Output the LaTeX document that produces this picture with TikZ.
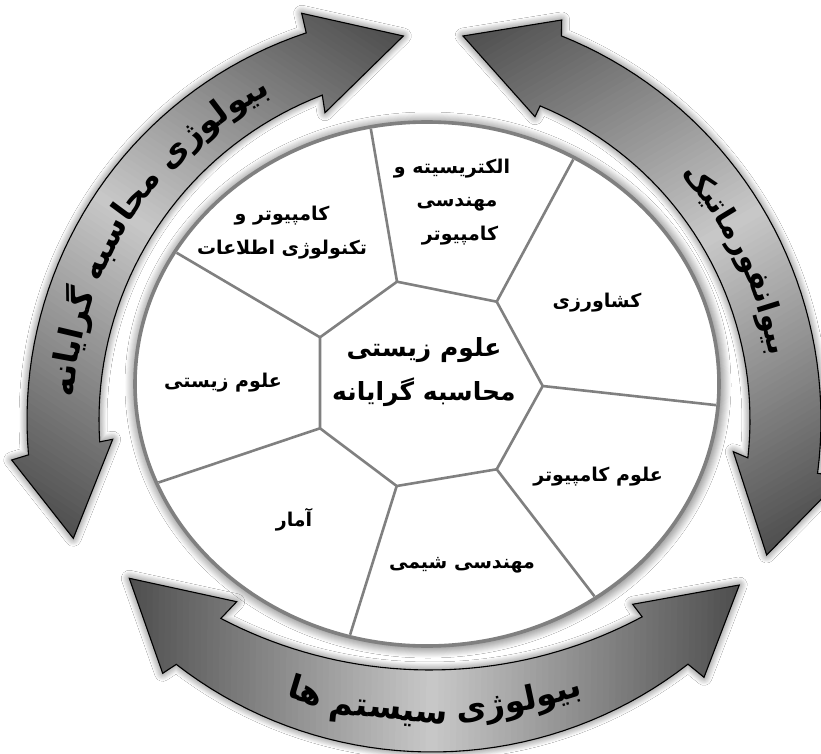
\documentclass[tikz,border=0pt]{standalone}
\usepackage{fontspec}
\usetikzlibrary{calc,shadows.blur}
\newfontfamily\fa[Script=Arabic]{DejaVu Sans}
\TeXXeTstate=1
\definecolor{edgegray}{HTML}{808080}
\definecolor{arrdark}{HTML}{4E4E4E}
\definecolor{arrlight}{HTML}{C8C8C8}
\def\arcsz{33}
\newcommand\arcfont{\fa\bfseries\fontsize{\arcsz}{\arcsz}\selectfont}
\newcommand\lblfont{\fa\bfseries\fontsize{19}{22}\selectfont}
\newcommand\cenfont{\fa\bfseries\fontsize{25}{30}\selectfont}
\newcommand\wsp{\hskip0.3em\relax}
\newlength\segw
\newlength\totw
% #1 prefix, #2 cx, #3 cy, #4 R, #5 centre angle, #6 direction, #7 rotation offset, #8 segments
\newcommand\arctext[8]{%
  \global\totw=0pt
  \foreach \sg in {#8}{\setbox0=\hbox{\pgfinterruptpicture\arcfont\beginR\sg\endR\endpgfinterruptpicture}\global\advance\totw by \wd0}%
  \pgfmathsetmacro\tstart{#5 - #6*0.5*\totw/#4*57.29578}%
  \xdef\tcur{\tstart}%
  \foreach \sg [count=\k] in {#8}{%
    \setbox0=\hbox{\pgfinterruptpicture\arcfont\beginR\sg\endR\endpgfinterruptpicture}\segw=\wd0
    \pgfmathsetmacro\tmid{\tcur + #6*0.5*\segw/#4*57.29578}%
    \pgfmathsetmacro\tnxt{\tcur + #6*\segw/#4*57.29578}%
    \node[arcword, rotate={-\tmid+#7}] (#1\k) at ({#2+#4*cos(\tmid)},{#3+#4*sin(\tmid)}) {\beginR\sg\endR};%
    \xdef\tcur{\tnxt}%
  }%
}
% #1 path, #2 cx, #3 cy, #4 ux, #5 uy, #6 L  (u: unit vector along the chord, image coordinates)
\newcommand\arrowbody[6]{%
  \path[arrowshadow] #1;
  \begin{scope}
    \clip #1;
    \foreach \j in {0,...,99}{%
      \pgfmathsetmacro\sa{-(#6)/2 + (#6)/100*\j - 0.8}%
      \pgfmathsetmacro\sbb{-(#6)/2 + (#6)/100*(\j+1) + 0.8}%
      \pgfmathsetmacro\pc{100*(1-abs((\j+0.5)/50-1))}%
      \fill[arrlight!\pc!arrdark] ({#2+(#4)*\sa+(#5)*450},{#3+(#5)*\sa-(#4)*450}) -- ({#2+(#4)*\sbb+(#5)*450},{#3+(#5)*\sbb-(#4)*450}) -- ({#2+(#4)*\sbb-(#5)*450},{#3+(#5)*\sbb+(#4)*450}) -- ({#2+(#4)*\sa-(#5)*450},{#3+(#5)*\sa+(#4)*450}) -- cycle;
    }
  \end{scope}
  \draw[arrowline] #1;
}
\def\pathA{(403.3,36) -- (325,112.7) -- plot[domain=249:176.4, samples=40, variable=\ang] ({447+348*cos(\ang)},{420+348*sin(\ang)}) -- (112.7,439.3) -- (73.3,538.3) -- (11.7,460) -- plot[domain=175.1:251.6, samples=40, variable=\ang] ({435+408*cos(\ang)},{420+408*sin(\ang)}) -- (301.7,13.3) -- cycle}
\def\pathB{(463,36) -- (535,116.7) -- plot[domain=292.5:366.4, samples=40, variable=\ang] ({410+340*cos(\ang)},{420+340*sin(\ang)}) -- (733.3,451.7) -- (766.7,555) -- (843,477) -- plot[domain=367.4:291.9, samples=40, variable=\ang] ({407+414*cos(\ang)},{420+414*sin(\ang)}) -- (561.7,20) -- cycle}
\def\pathC{(129.3,578.3) -- (236.7,601.7) -- plot[domain=117.7:61.87, samples=40, variable=\ang] ({430+450*cos(\ang)},{220+450*sin(\ang)}) -- (632.7,604.3) -- (739.3,585) -- (704,677.3) -- plot[domain=52.13:127.83, samples=40, variable=\ang] ({432+417*cos(\ang)},{335+417*sin(\ang)}) -- (162.7,673.3) -- cycle}
\begin{document}
\begin{tikzpicture}[x=1pt,y=-1pt,
  arcword/.style={anchor=base, inner sep=0pt, font=\arcfont, text=black},
  lbl/.style={inner sep=0pt, font=\lblfont, text=black},
  cen/.style={inner sep=0pt, font=\cenfont, text=black},
  divline/.style={draw=edgegray, line width=2.6pt, line join=round},
  arrowline/.style={draw=black, line width=1.1pt, line join=miter},
  arrowshadow/.style={blur shadow={shadow xshift=0pt, shadow yshift=0pt, shadow blur radius=8pt, shadow blur steps=12, shadow opacity=65}},
  discshadow/.style={blur shadow={shadow xshift=1pt, shadow yshift=-1pt, shadow blur radius=11pt, shadow blur steps=12, shadow opacity=75}}
]
\useasboundingbox (0,0) rectangle (821,754);
\fill[white] (0,0) rectangle (821,754);
% disc
\path[fill=white, discshadow] (427,384) ellipse [x radius=292, y radius=262];
\coordinate (p1) at (397,281.7);
\coordinate (p2) at (496.7,301.7);
\coordinate (p3) at (542.7,386);
\coordinate (p4) at (496.7,469.3);
\coordinate (p5) at (396.7,486);
\coordinate (p6) at (320,428.3);
\coordinate (p7) at (320,337.3);
\coordinate (q1) at (370,124);
\coordinate (q2) at (573,160);
\coordinate (q3) at (715,405);
\coordinate (q4) at (595,597);
\coordinate (q5) at (350,635);
\coordinate (q6) at (160,482);
\coordinate (q7) at (177,253);
\begin{scope}
  \clip (427,384) ellipse [x radius=290, y radius=260];
  \draw[divline] (p1) -- (p2) -- (p3) -- (p4) -- (p5) -- (p6) -- (p7) -- cycle;
  \foreach \i in {1,...,7} \draw[divline] (p\i) -- ($(p\i)!1.6!(q\i)$);
\end{scope}
\draw[edgegray, line width=3.6pt] (427,384) ellipse [x radius=292, y radius=262];
% labels
\node[cen] (c1) at (424,350) {\beginR علوم زیستی\endR};
\node[cen] (c2) at (424,392) {\beginR محاسبه گرایانه\endR};
\node[lbl] (l1a) at (282,216) {\beginR کامپیوتر و\endR};
\node[lbl] (l1b) at (282,250) {\beginR تکنولوژی اطلاعات\endR};
\node[lbl] (l2a) at (452,169) {\beginR الکتریسیته و\endR};
\node[lbl] (l2b) at (457,204) {\beginR مهندسی\endR};
\node[lbl] (l2c) at (460,236) {\beginR کامپیوتر\endR};
\node[lbl] (l3) at (597,303) {\beginR کشاورزی\endR};
\node[lbl] (l4) at (223,383) {\beginR علوم زیستی\endR};
\node[lbl] (l5) at (598,477) {\beginR علوم کامپیوتر\endR};
\node[lbl] (l6) at (294,520) {\beginR آمار\endR};
\node[lbl] (l7) at (462,565) {\beginR مهندسی شیمی\endR};
% arrows
\arrowbody{\pathA}{238.3}{287.2}{0.549}{-0.836}{601}
\arrowbody{\pathB}{614.9}{295.5}{0.505}{0.863}{601}
\arrowbody{\pathC}{434.3}{581.6}{1}{0.011}{610}
% arc texts
\def\arcsz{33}
\arctext{ta}{441}{420}{368}{213}{(-1)}{-90}{بیو,لو,ژ,ی,\wsp,محا,سبه,\wsp,گر,ا,یا,نه}
\def\arcsz{30}
\arctext{tb}{408}{420}{367}{334}{(-1)}{-90}{بیو,ا,نفو,ر,ما,تیک}
\def\arcsz{33}
\arctext{tc}{431}{281}{440}{89.5}{1}{90}{بیو,لو,ژ,ی,\wsp,سیستم,\wsp,ها}
\end{tikzpicture}
\end{document}
